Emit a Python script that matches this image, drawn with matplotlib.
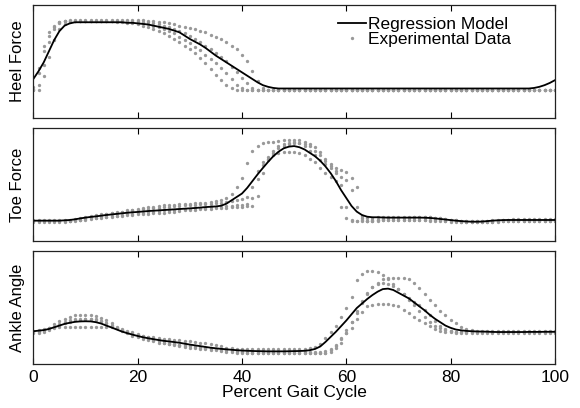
import matplotlib
matplotlib.use("Agg")
import matplotlib.pyplot as plt
from matplotlib.lines import Line2D
import numpy as np

plt.rcParams['font.family'] = ['Liberation Sans', 'DejaVu Sans']

# -----------------------------
# Data (percent of gait cycle, values in relative units 0-100)
# -----------------------------
gait_pct = np.arange(101)

heel_model = [
    35, 42, 50, 60, 70, 78, 83, 85, 86, 86, 86, 86, 86, 86, 86, 86, 86, 86, 85.5, 85.5,
    85, 84.5, 84, 83, 82, 81, 80, 78.5, 77, 74, 71, 68.5, 66, 63, 59.5, 56, 53, 50, 47, 44,
    41, 38, 35, 32, 29.5, 28, 27, 26.5, 26.5, 26.5, 26.5, 26.5, 26.5, 26.5, 26.5, 26.5, 26.5, 26.5, 26.5, 26.5,
    26.5, 26.5, 26.5, 26.5, 26.5, 26.5, 26.5, 26.5, 26.5, 26.5, 26.5, 26.5, 26.5, 26.5, 26.5, 26.5, 26.5, 26.5, 26.5, 26.5,
    26.5, 26.5, 26.5, 26.5, 26.5, 26.5, 26.5, 26.5, 26.5, 26.5, 26.5, 26.5, 26.5, 26.5, 26.5, 26.5, 27, 28, 29.5, 31.5,
    34]

heel_trial_1 = [
    25, 25, 38, 55, 70, 80, 84, 86, 87, 87, 87, 87, 87, 87, 87, 87, 86.5, 86, 85.5, 85,
    84, 83, 81.5, 80, 78, 76, 74, 71, 68, 65, 62, 58, 54, 49, 44, 39, 34, 30, 27, 25.5,
    25.5, 25.5, 25.5, 25.5, 25.5, 25.5, 25.5, 25.5, 25.5, 25.5, 25.5, 25.5, 25.5, 25.5, 25.5, 25.5, 25.5, 25.5, 25.5, 25.5,
    25.5, 25.5, 25.5, 25.5, 25.5, 25.5, 25.5, 25.5, 25.5, 25.5, 25.5, 25.5, 25.5, 25.5, 25.5, 25.5, 25.5, 25.5, 25.5, 25.5,
    25.5, 25.5, 25.5, 25.5, 25.5, 25.5, 25.5, 25.5, 25.5, 25.5, 25.5, 25.5, 25.5, 25.5, 25.5, 25.5, 25.5, 25.5, 25.5, 25.5,
    25.5]

heel_trial_2 = [
    25, 30, 48, 68, 80, 85, 87, 87.5, 87.5, 87.5, 87.5, 87.5, 87.5, 87.5, 87.5, 87.5, 87.5, 87.5, 87, 86.5,
    86, 85, 84, 83, 81.5, 80, 78, 76, 73, 70, 67, 64, 61, 57, 53, 49, 45, 40, 35, 30,
    27, 25.5, 25.5, 25.5, 25.5, 25.5, 25.5, 25.5, 25.5, 25.5, 25.5, 25.5, 25.5, 25.5, 25.5, 25.5, 25.5, 25.5, 25.5, 25.5,
    25.5, 25.5, 25.5, 25.5, 25.5, 25.5, 25.5, 25.5, 25.5, 25.5, 25.5, 25.5, 25.5, 25.5, 25.5, 25.5, 25.5, 25.5, 25.5, 25.5,
    25.5, 25.5, 25.5, 25.5, 25.5, 25.5, 25.5, 25.5, 25.5, 25.5, 25.5, 25.5, 25.5, 25.5, 25.5, 25.5, 25.5, 25.5, 25.5, 25.5,
    25.5]

heel_trial_3 = [
    28, 45, 65, 77, 83, 86, 87, 87.5, 87.5, 87.5, 87.5, 87.5, 87.5, 87.5, 87.5, 87.5, 87.5, 87.5, 87.5, 87.5,
    87, 86.5, 86, 85, 84, 83, 81.5, 80, 78, 76, 74, 71, 68, 65, 62, 58, 55, 51, 46, 41,
    36, 31, 27, 25.5, 25.5, 25.5, 25.5, 25.5, 25.5, 25.5, 25.5, 25.5, 25.5, 25.5, 25.5, 25.5, 25.5, 25.5, 25.5, 25.5,
    25.5, 25.5, 25.5, 25.5, 25.5, 25.5, 25.5, 25.5, 25.5, 25.5, 25.5, 25.5, 25.5, 25.5, 25.5, 25.5, 25.5, 25.5, 25.5, 25.5,
    25.5, 25.5, 25.5, 25.5, 25.5, 25.5, 25.5, 25.5, 25.5, 25.5, 25.5, 25.5, 25.5, 25.5, 25.5, 25.5, 25.5, 25.5, 25.5, 25.5,
    25.5]

heel_trial_4 = [
    26, 40, 60, 74, 82, 86, 87.5, 88, 88, 88, 88, 88, 88, 88, 88, 88, 88, 88, 88, 88,
    88, 88, 87.5, 87, 86.5, 86, 85, 84, 83, 82, 81, 80, 78, 77, 75, 73, 71, 68, 65, 62,
    57, 51, 42, 33, 27, 25.5, 25.5, 25.5, 25.5, 25.5, 25.5, 25.5, 25.5, 25.5, 25.5, 25.5, 25.5, 25.5, 25.5, 25.5,
    25.5, 25.5, 25.5, 25.5, 25.5, 25.5, 25.5, 25.5, 25.5, 25.5, 25.5, 25.5, 25.5, 25.5, 25.5, 25.5, 25.5, 25.5, 25.5, 25.5,
    25.5, 25.5, 25.5, 25.5, 25.5, 25.5, 25.5, 25.5, 25.5, 25.5, 25.5, 25.5, 25.5, 25.5, 25.5, 25.5, 25.5, 25.5, 25.5, 25.5,
    25.5]

toe_model = [
    18, 18, 18, 18, 18, 18, 18.3, 18.6, 19.2, 20, 20.7, 21.3, 21.8, 22.4, 23, 23.5, 24, 24.5, 25, 25.4,
    25.7, 26.1, 26.5, 26.8, 27.1, 27.4, 27.7, 28, 28.3, 28.6, 28.9, 29.2, 29.6, 30, 30.3, 30.6, 31.2, 33, 36, 39,
    42, 47, 53, 59, 64.6, 70, 75, 79, 82, 83.5, 84, 83, 81, 78, 75, 71, 66, 60, 53, 45,
    38, 31, 26, 23, 21.5, 21, 21, 20.8, 20.7, 20.7, 20.7, 20.7, 20.7, 20.7, 20.7, 20.6, 20.4, 20, 19.5, 19,
    18.5, 18, 17.6, 17.3, 17.1, 17.1, 17.2, 17.6, 18, 18.3, 18.5, 18.6, 18.6, 18.6, 18.6, 18.6, 18.6, 18.6, 18.6, 18.6,
    18.6]

toe_trial_1 = [
    17.5, 17.5, 17.5, 17.5, 17.5, 17.5, 17.5, 18, 18.5, 19, 20, 21, 22, 23, 24, 24.5, 25, 26, 27, 27.5,
    28, 29, 30, 30.5, 31, 31.5, 32, 32, 32.5, 33, 33, 33.5, 34, 34, 34.5, 35, 36, 38, 42, 48,
    56, 69, 80, 84, 86.5, 87.5, 88, 88.5, 89, 89.5, 89.5, 89.5, 88, 86, 83, 79, 73, 68, 65, 63,
    61.5, 56, 48, 20, 18, 18.5, 19, 19.5, 20, 20.5, 20.5, 20.5, 20.5, 21, 21, 21, 21, 20.5, 20, 19.5,
    19, 18.5, 18, 17.5, 17.5, 17.5, 17.5, 17.5, 18, 18, 18.5, 18.5, 19, 19, 19, 19, 19, 19, 19, 19,
    19]

toe_trial_2 = [
    18, 18, 18, 18, 18, 18, 18, 18, 18.5, 19, 19.5, 20, 20.5, 21, 21.5, 22, 22.5, 23, 23.5, 24,
    24.5, 25, 25.5, 26, 26.5, 27, 27, 27.5, 28, 28, 28.5, 29, 29, 29.5, 30, 30, 30.5, 31, 31, 31.5,
    32, 33, 38, 55, 67, 73, 78, 82, 84.5, 86, 87, 86.5, 84, 80, 76, 72, 68, 64.6, 60, 50,
    30, 19, 17.5, 17.5, 17.5, 18, 18.5, 19, 19, 19, 19, 19, 19, 19, 19, 19, 19, 18.5, 18.5, 18,
    18, 17.5, 17, 16.5, 16.5, 16.5, 16.5, 17, 17, 17.5, 17.5, 17.5, 17.5, 17.5, 17.5, 17.5, 17.5, 17.5, 17.5, 17.5,
    17.5]

toe_trial_3 = [
    18.5, 18.5, 18.5, 18.5, 18.5, 18.5, 18.5, 19, 19.5, 20, 21, 22, 23, 23.5, 24, 25, 25.5, 26, 26.5, 27,
    27.5, 28, 28.5, 29, 29.5, 30, 30.5, 31, 31, 31.5, 32, 32, 32.5, 33, 33, 33.5, 34, 34.5, 35, 36,
    37, 39, 48, 62, 70, 74, 76, 77.5, 78.5, 79, 79, 78, 76, 73, 70, 65, 60, 57, 53, 30,
    20, 17.5, 18, 19, 20, 20.5, 21, 21.5, 21.5, 21.5, 21.5, 21.5, 21.5, 21.5, 21.5, 21.5, 21, 20.5, 20, 19.5,
    19, 18.5, 18, 18, 18, 18, 18, 18, 18.5, 18.5, 19, 19, 19.5, 19.5, 19.5, 19.5, 19.5, 19.5, 19.5, 19.5,
    19.5]

toe_trial_4 = [
    17, 17, 17, 17, 17, 17, 17, 17.5, 18, 18.5, 19, 19.5, 20, 20.5, 21, 21.5, 22, 22.5, 23, 23,
    23.5, 24, 24, 24.5, 25, 25, 25.5, 26, 26.5, 27, 27, 27.5, 28, 28, 28.5, 29, 29, 29.5, 30, 30,
    30.5, 31, 31, 40, 60, 72, 80, 84, 86, 87, 87.5, 87, 86, 84, 80, 76, 71, 66, 62, 57,
    54, 45, 30, 22, 18, 18, 18, 18.5, 18.5, 18.5, 18.5, 18.5, 18.5, 18.5, 18.5, 18.5, 18, 18, 17.5, 17.5,
    17, 17, 16.5, 16.5, 16.5, 16.5, 16.5, 17, 17, 17, 17.5, 17.5, 17.5, 17.5, 17.5, 17.5, 17.5, 17.5, 17.5, 17.5,
    17.5]

ankle_model = [
    29, 29.5, 30, 31, 32.5, 34, 35.5, 36.5, 37.3, 37.7, 37.8, 37.7, 37, 35.8, 34, 32.3, 30.5, 28.7, 27.3, 26,
    24.8, 23.7, 22.8, 22, 21.2, 20.5, 20, 19.4, 18.8, 18, 17.2, 16.5, 15.8, 15.1, 14.4, 13.9, 13.4, 13, 12.6, 12.2,
    11.9, 11.7, 11.5, 11.4, 11.3, 11.2, 11.2, 11.2, 11.2, 11.3, 11.4, 11.5, 11.7, 12.2, 13.3, 15.5, 19.5, 24, 28.5, 33.5,
    38.5, 44, 49.5, 53.5, 57.5, 61, 64, 66.3, 66.7, 65.5, 63, 60.5, 58, 54.5, 51, 47.5, 43.5, 40, 37, 34,
    32, 30.5, 29.8, 29.3, 29, 28.8, 28.7, 28.6, 28.4, 28.3, 28.3, 28.3, 28.3, 28.3, 28.3, 28.4, 28.4, 28.4, 28.5, 28.5,
    28.5]

ankle_trial_1 = [
    28, 28.5, 30, 32, 35, 38, 40, 42, 43, 43, 43, 43, 42.5, 41, 39, 36, 33, 30.5, 28.5, 27,
    26, 25, 24, 23.5, 23, 22.5, 22, 21.5, 21, 20.5, 20, 19.5, 19, 18.5, 17.5, 16.5, 15.5, 14.5, 14, 13.5,
    13.5, 13.5, 13.5, 13.5, 13.5, 13.5, 13.5, 13.5, 13.5, 13.5, 13.5, 13.5, 13.5, 14, 15, 18, 23, 28, 34, 42,
    50, 59, 74, 80, 82, 82, 81, 79, 75, 71, 66, 62, 58, 55, 52, 48, 43, 38, 34, 31,
    29, 28, 28, 28, 28, 28, 28, 28, 28, 28, 28, 28, 28, 28, 28, 28, 28, 28, 28, 28,
    28]

ankle_trial_2 = [
    29, 29.5, 30, 31.5, 33, 35, 37, 38.5, 39.5, 40, 40, 40, 39.5, 38, 36, 34, 31.5, 29, 27, 25,
    23.5, 22, 21, 20, 19, 18.5, 18, 17.5, 17, 16.5, 16, 15.5, 15, 14.5, 14, 13.5, 13, 12.5, 12, 11.5,
    11, 11, 11, 11, 11, 11, 11, 11, 11, 11, 11, 11, 11, 11, 11, 11, 11.5, 13, 17, 23,
    30, 37, 45, 54, 62, 68, 72, 75, 76, 76.5, 76.5, 76.5, 75.5, 72, 67, 62, 57, 52, 47, 43,
    39, 36, 33, 31, 30, 29.5, 29.5, 29.5, 29.5, 29.5, 29.5, 29.5, 29.5, 29.5, 29.5, 29.5, 29.5, 29.5, 29.5, 29.5,
    29.5]

ankle_trial_3 = [
    27, 27.5, 28.5, 30, 32, 34, 36, 37.5, 38.5, 39, 39.5, 39.5, 39, 38, 36.5, 34.5, 32, 30, 28, 26.5,
    25, 23.5, 22, 21, 20, 19, 18, 17, 16, 15, 14.5, 14, 13.5, 13, 12.5, 12, 11.5, 11, 10.5, 10,
    10, 9.5, 9.5, 9.5, 9.5, 9.5, 9.5, 9.5, 9.5, 9.5, 9.5, 9.5, 9.5, 9.5, 9.5, 9.5, 10, 11, 14, 19,
    27, 37, 47, 56, 63, 68, 70.5, 71.5, 71, 69, 66, 62, 57, 52, 47, 42, 37, 34, 31.5, 30,
    29, 28.5, 28.5, 28.5, 28.5, 28.5, 28.5, 28.5, 28.5, 28.5, 28.5, 28.5, 28.5, 28.5, 28.5, 28.5, 28.5, 28.5, 28.5, 28.5,
    28.5]

ankle_trial_4 = [
    29, 30, 31, 32, 32.5, 32.7, 32.7, 32.7, 32.7, 32.7, 32.7, 32.7, 32.7, 32.7, 32.7, 32.7, 32, 31, 29.5, 28,
    26.5, 25, 23.5, 22, 21, 20, 19, 18, 17, 16, 15.5, 15, 14.5, 14, 13.5, 13, 12.5, 12, 11.5, 11,
    10.5, 10, 10, 9.5, 9.5, 9.5, 9.5, 9.5, 9.5, 9.5, 9.5, 9.5, 9.5, 9.5, 9.5, 9.5, 10, 12, 16, 22,
    27, 32, 40, 46, 51, 52.5, 53, 53, 53, 52.5, 51, 48, 45, 42, 39, 36, 33.5, 31, 29.5, 28.5,
    28, 27.5, 27.5, 27.5, 27.5, 27.5, 27.5, 27.5, 27.5, 27.5, 27.5, 27.5, 27.5, 27.5, 27.5, 27.5, 27.5, 27.5, 27.5, 27.5,
    27.5]

panels = [
    ("Heel Force", heel_model, [heel_trial_1, heel_trial_2, heel_trial_3, heel_trial_4]),
    ("Toe Force", toe_model, [toe_trial_1, toe_trial_2, toe_trial_3, toe_trial_4]),
    ("Ankle Angle", ankle_model, [ankle_trial_1, ankle_trial_2, ankle_trial_3, ankle_trial_4]),
]

x_ticks = [0, 20, 40, 60, 80, 100]

# -----------------------------
# Plot
# -----------------------------
fig = plt.figure(figsize=(5.8, 4.08), dpi=100)

ax_left = 33.3 / 580
ax_width = (555 - 33.3) / 580
ax_height = 113 / 408
bottoms = [(408 - 118) / 408, (408 - 241) / 408, (408 - 364) / 408]

dot_color = "#999999"
dot_size = 2.4

for i, (label, model, trials) in enumerate(panels):
    ax = fig.add_axes([ax_left, bottoms[i], ax_width, ax_height])

    for trial in trials:
        ax.plot(gait_pct, trial, linestyle="none", marker="o",
                markersize=dot_size, markeredgewidth=0, color=dot_color)

    ax.plot(gait_pct, model, color="black", linewidth=1.3)

    # heel panel sits a touch lower in the frame
    ax.set_xlim(0, 100)
    ax.set_ylim(0, 101.5 if i == 0 else 100)
    ax.set_yticks([])
    ax.set_xticks(x_ticks)
    ax.tick_params(axis="x", direction="in", length=4, width=0.8,
                   top=True, labelsize=12.5, pad=4)
    ax.set_ylabel(label, fontsize=12, labelpad=6)

    for spine in ax.spines.values():
        spine.set_linewidth(0.9)
        spine.set_color("#222222")

    if i < 2:
        ax.set_xticklabels([])
    else:
        ax.set_xlabel("Percent Gait Cycle", fontsize=12.5, labelpad=0)

    if i == 0:
        handles = [
            Line2D([], [], color="black", linewidth=1.3),
            Line2D([], [], linestyle="none", marker="o", markersize=dot_size,
                   markeredgewidth=0, color=dot_color),
        ]
        ax.legend(handles, ["Regression Model", "Experimental Data"],
                  loc="upper left", bbox_to_anchor=(0.565, 0.99),
                  frameon=False, fontsize=12.5, handlelength=1.6,
                  handletextpad=0.1, labelspacing=0.0, borderaxespad=0.2)

fig.savefig("out.png", dpi=100)
